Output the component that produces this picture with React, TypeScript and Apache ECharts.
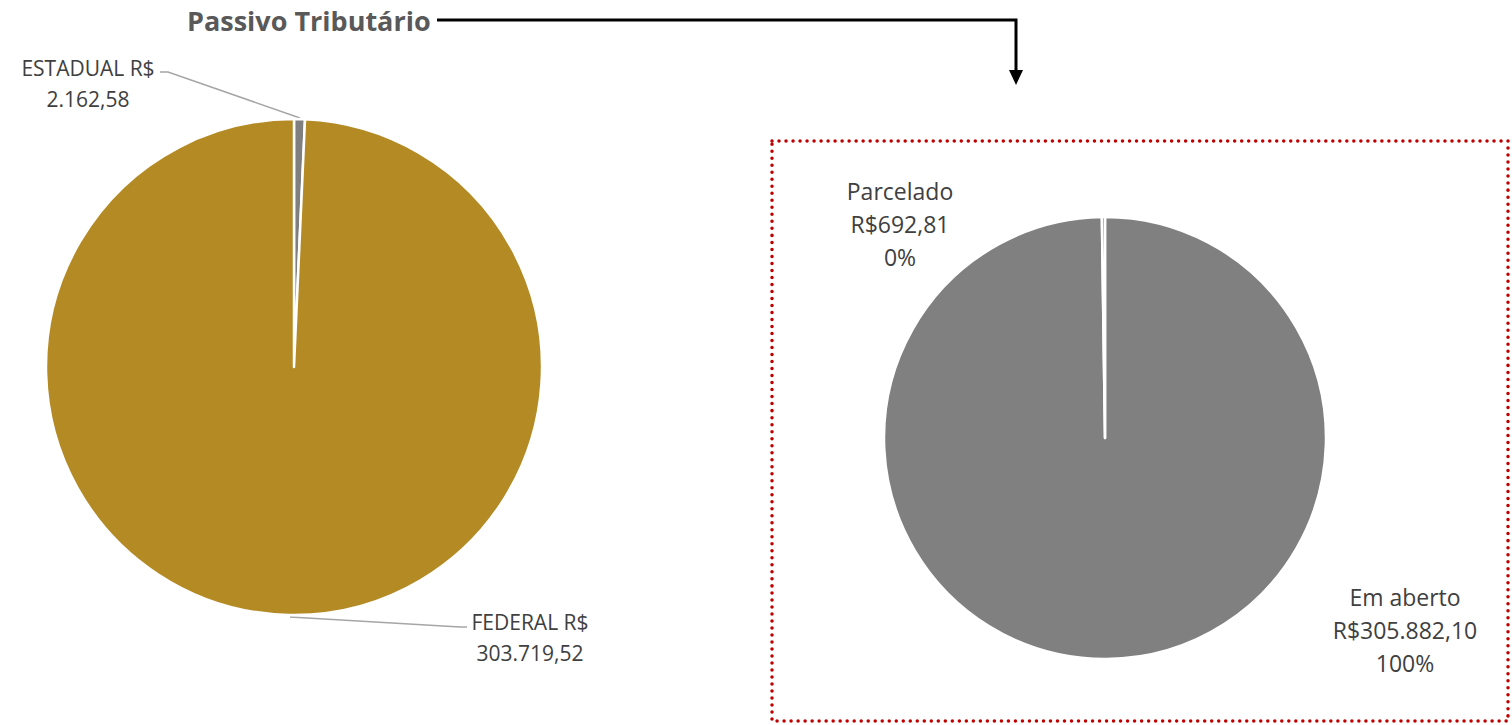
import React, { useEffect, useRef } from "react";
import * as echarts from "echarts";

const titleText = "Passivo Tributário";
const leftNames = ["ESTADUAL", "FEDERAL"];
const leftValues = [2162.58, 303719.52];
const leftColors = ["#7F7F7F", "#B48A25"];
const rightNames = ["Em aberto", "Parcelado"];
const rightValues = [305882.1, 692.81];
const rightColors = ["#808080", "#808080"];

function fmtBR(v: number): string {
  const fixed = v.toFixed(2);
  const [intPart, dec] = fixed.split(".");
  const withSep = intPart.replace(/\B(?=(\d{3})+(?!\d))/g, ".");
  return withSep + "," + dec;
}

const leftLabelPos = [
  { x: 88, y: 83, line: [[300, 118], [168, 72], [160, 72]] },
  { x: 530, y: 637, line: [[290, 617], [460, 627], [467, 627]] },
];
const rightLabelPos = [
  { x: 1405, y: 630 },
  { x: 900, y: 224 },
];

export default function App() {
  const ref = useRef<HTMLDivElement>(null);
  useEffect(() => {
    if (!ref.current) return;
    const chart = echarts.init(ref.current, null, { renderer: "svg" });
    const font = "'Open Sans', 'Noto Sans', sans-serif";
    chart.setOption({
      animation: false,
      backgroundColor: "#ffffff",
      graphic: [
        {
          type: "text",
          left: 187,
          top: 7,
          style: {
            text: titleText,
            font: `bold 27px ${font}`,
            fill: "#595959",
          },
        },
        {
          type: "polyline",
          shape: { points: [[437, 20], [1016, 20], [1016, 72]] },
          style: { stroke: "#000", lineWidth: 3, fill: null },
        },
        {
          type: "polygon",
          shape: { points: [[1009, 70], [1023, 70], [1016, 85]] },
          style: { fill: "#000" },
        },
        {
          type: "rect",
          shape: { x: 772, y: 141, width: 736, height: 580 },
          style: {
            fill: null,
            stroke: "#C00000",
            lineWidth: 3.5,
            lineDash: [0.01, 7],
            lineCap: "round",
          },
        },
      ],
      series: [
        {
          type: "pie",
          center: [294, 367],
          radius: [0, 248],
          startAngle: 90,
          clockwise: true,
          itemStyle: { borderColor: "#ffffff", borderWidth: 2.5 },
          label: {
            show: true,
            fontFamily: font,
            fontSize: 21,
            lineHeight: 31,
            color: "#404040",
            align: "center",
            formatter: (p: any) => `${p.name} R$\n${fmtBR(p.value)}`,
          },
          labelLine: { show: true, lineStyle: { color: "#A6A6A6", width: 1.5 } },
          labelLayout: (p: any) => {
            const pos = leftLabelPos[p.dataIndex];
            return {
              x: pos.x,
              y: pos.y,
              align: "center",
              verticalAlign: "middle",
              labelLinePoints: pos.line,
            };
          },
          emphasis: { disabled: true },
          data: leftNames.map((n, i) => ({
            name: n,
            value: leftValues[i],
            itemStyle: { color: leftColors[i] },
          })),
        },
        {
          type: "pie",
          center: [1105, 438],
          radius: [0, 221],
          startAngle: 90,
          clockwise: true,
          itemStyle: { borderColor: "#ffffff", borderWidth: 2.5 },
          label: {
            show: true,
            fontFamily: font,
            fontSize: 23,
            lineHeight: 33,
            color: "#404040",
            align: "center",
            formatter: (p: any) =>
              `${p.name}\nR$${fmtBR(p.value)}\n${Math.round(p.percent)}%`,
          },
          labelLine: { show: false },
          labelLayout: (p: any) => {
            const pos = rightLabelPos[p.dataIndex];
            return { x: pos.x, y: pos.y, align: "center", verticalAlign: "middle" };
          },
          emphasis: { disabled: true },
          data: rightNames.map((n, i) => ({
            name: n,
            value: rightValues[i],
            itemStyle: { color: rightColors[i] },
          })),
        },
      ],
    });
    return () => chart.dispose();
  }, []);
  return (
    <div
      ref={ref}
      style={{ position: "absolute", left: 0, top: 0, width: 1512, height: 725 }}
    />
  );
}
